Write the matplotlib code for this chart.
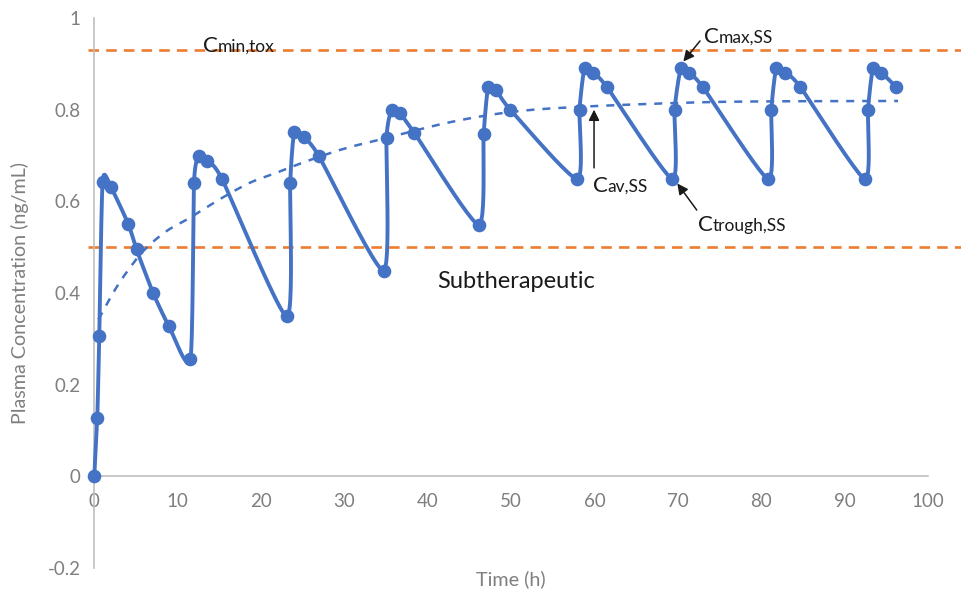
import numpy as np
import matplotlib
matplotlib.use("Agg")
import matplotlib.pyplot as plt

plt.rcParams['font.family'] = ['Lato', 'DejaVu Sans']
plt.rcParams['axes.unicode_minus'] = False

# measured plasma concentration (ng/mL) vs time (h)
time_h = [0, 0.36, 0.6, 1.0, 1.96, 4.07, 5.07, 7.06, 8.97, 11.53,
          11.96, 12.56, 13.52, 15.31, 23.09,
          23.5, 24.0, 25.1, 26.9, 34.7,
          35.05, 35.7, 36.65, 38.4, 46.1,
          46.7, 47.25, 48.2, 49.9, 57.9,
          58.2, 58.8, 59.8, 61.5, 69.3,
          69.6, 70.35, 71.3, 73.0, 80.8,
          81.2, 81.8, 82.9, 84.7, 92.4,
          92.8, 93.4, 94.4, 96.2]
conc = [0, 0.128, 0.306, 0.643, 0.632, 0.551, 0.495, 0.40, 0.327, 0.255,
        0.64, 0.70, 0.689, 0.649, 0.349,
        0.64, 0.752, 0.74, 0.70, 0.449,
        0.738, 0.80, 0.792, 0.749, 0.549,
        0.747, 0.85, 0.842, 0.80, 0.649,
        0.80, 0.89, 0.881, 0.849, 0.649,
        0.80, 0.89, 0.881, 0.849, 0.649,
        0.80, 0.89, 0.881, 0.849, 0.649,
        0.80, 0.89, 0.881, 0.849]

# average concentration trend (dashed)
avg_t = [0.5, 2.48, 4.27, 6.06, 8.66, 11.45, 15.0, 18.6, 21.8, 25.4,
         30.0, 35.0, 42.5, 50.0, 58.0, 70.5, 80.0, 96.4]
avg_c = [0.342, 0.407, 0.455, 0.495, 0.535, 0.564, 0.604, 0.64, 0.662, 0.687,
         0.715, 0.738, 0.772, 0.795, 0.806, 0.815, 0.818, 0.819]

c_min_tox = 0.93
c_subther = 0.5

blue = '#4472C4'
orange = '#ED7D31'
grey = '#7F7F7F'


def smooth(x, y, n=24, tension=0.65):
    # cardinal spline through the points (close to Excel's smoothed line)
    pts = np.column_stack([x, y]).astype(float)
    p = np.vstack([pts[0], pts, pts[-1]])
    out = []
    s = np.linspace(0, 1, n, endpoint=False)[:, None]
    h00 = 2 * s ** 3 - 3 * s ** 2 + 1
    h10 = s ** 3 - 2 * s ** 2 + s
    h01 = -2 * s ** 3 + 3 * s ** 2
    h11 = s ** 3 - s ** 2
    for i in range(1, len(p) - 2):
        p0, p1, p2, p3 = p[i - 1], p[i], p[i + 1], p[i + 2]
        m1 = tension * 0.5 * (p2 - p0)
        m2 = tension * 0.5 * (p3 - p1)
        out.append(h00 * p1 + h10 * m1 + h01 * p2 + h11 * m2)
    out.append(p[-2][None])
    return np.vstack(out)


fig = plt.figure(figsize=(9.62, 6.0), dpi=100)
ax = fig.add_axes([0.098, 0.0533, 0.8667, 0.9167])

# threshold lines
for lvl in (c_min_tox, c_subther):
    ax.plot([-0.8, 104.5], [lvl, lvl], color=orange, lw=1.9,
            linestyle=(0, (4.0, 2.7)), clip_on=False, zorder=2)

av = smooth(avg_t, avg_c, tension=1.0)
ax.plot(av[:, 0], av[:, 1], color=blue, lw=1.8, linestyle=(0, (3.2, 3.2)), zorder=3)

cv = smooth(time_h, conc)
ax.plot(cv[:, 0], cv[:, 1], color=blue, lw=2.8, zorder=4, solid_capstyle='round',
        solid_joinstyle='round', clip_on=False)
ax.plot(time_h, conc, 'o', color=blue, ms=8.8, zorder=5, clip_on=False)

ax.set_xlim(0, 100)
ax.set_ylim(-0.2, 1)
ax.set_xticks(np.arange(0, 101, 10))
ax.set_yticks([-0.2, 0, 0.2, 0.4, 0.6, 0.8, 1])
ax.set_yticklabels(['-0.2', '0', '0.2', '0.4', '0.6', '0.8', '1'])

for side in ('top', 'right'):
    ax.spines[side].set_visible(False)
ax.spines['bottom'].set_position(('data', 0))
ax.spines['left'].set_position(('data', 0))
for side in ('bottom', 'left'):
    ax.spines[side].set_color('#BFBFBF')
    ax.spines[side].set_linewidth(1.2)
ax.tick_params(length=0, labelsize=13.5, labelcolor=grey)
ax.tick_params(axis='x', pad=12)
ax.tick_params(axis='y', pad=10)

ax.set_ylabel('Plasma Concentration (ng/mL)', fontsize=14.2, color=grey)
ax.yaxis.set_label_coords(-0.078, 0.5)
ax.set_xlabel('Time (h)', fontsize=14.2, color=grey)
ax.xaxis.set_label_coords(0.5, -0.004)


def c_label(x, y, sub):
    t = ax.text(x, y, 'C', fontsize=16, color='#1a1a1a', va='baseline', zorder=6)
    ax.annotate(sub, xy=(1, 0), xycoords=t, fontsize=12.5, color='#1a1a1a',
                va='bottom', xytext=(0, 0.8), textcoords='offset points', zorder=6)


c_label(13.0, 0.926, 'min,tox')
c_label(73.1, 0.945, 'max,SS')
c_label(59.8, 0.62, 'av,SS')
c_label(72.4, 0.535, 'trough,SS')

ax.text(41.1, 0.41, 'Subtherapeutic', fontsize=17, color='#1a1a1a', va='baseline')

arrow = dict(arrowstyle='-|>', color='#1a1a1a', lw=1.1, mutation_scale=16,
             shrinkA=0, shrinkB=0)
ax.annotate('', xy=(70.65, 0.905), xytext=(72.65, 0.95), arrowprops=arrow, zorder=7)
ax.annotate('', xy=(59.94, 0.80), xytext=(59.94, 0.673), arrowprops=arrow, zorder=7)
ax.annotate('', xy=(69.93, 0.639), xytext=(72.26, 0.581), arrowprops=arrow, zorder=7)

fig.savefig('out.png', dpi=100)
